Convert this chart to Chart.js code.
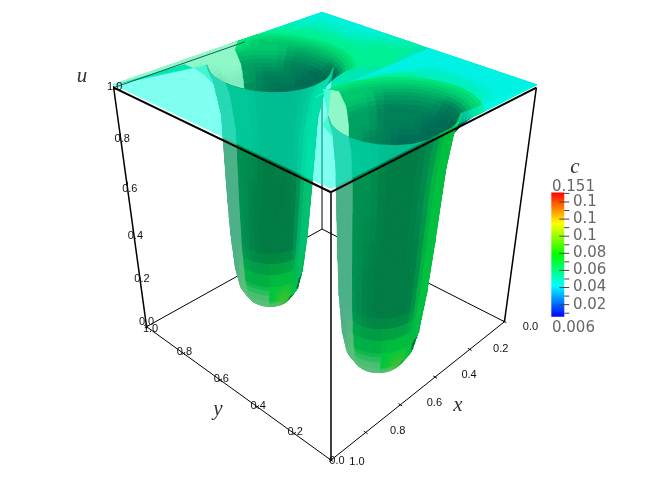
<!DOCTYPE html>
<html>
<head>
<meta charset="utf-8">
<style>body{margin:0;background:#fff}canvas{display:block}</style>
<script src="https://cdn.jsdelivr.net/npm/chart.js@4"></script>
</head>
<body>
<canvas id="surfaceChart" width="655" height="495"></canvas>
<script>
// axis values
const axisTicks = [0, 0.2, 0.4, 0.6, 0.8, 1];
const axisLabels = ['0.0', '0.2', '0.4', '0.6', '0.8', '1.0'];
const barTicks = [0.02, 0.04, 0.06, 0.08, 0.1, 0.12, 0.14];
const barMinorTicks = [0.01, 0.03, 0.05, 0.07, 0.09, 0.11, 0.13, 0.15];
const barLabels = ['0.02', '0.04', '0.06', '0.08', '0.1', '0.1', '0.1'];
const barRange = [0.006, 0.151];
const barColors = ['#0000ff', '#00ffff', '#00ff00', '#ffff00', '#ff0000'];

// well centres in the x-y plane, at the rim and at the bottom
const wellXTop = [0.48, 0.47];
const wellYTop = [0.777, 0.21];
const wellXLow = [0.5135, 0.494];
const wellYLow = [0.798, 0.22];
// width of each well against the common profile
const wellWideTop = [0.95, 1];
const wellWideLow = [0.87, 1];

// well profile: u and radius, rim downwards
const backU = [1.012, 0.995, 0.97, 0.93, 0.88, 0.8, 0.6];
const backR = [0.30, 0.265, 0.235, 0.205, 0.197, 0.19, 0.181];
const frontU = [1.012, 0.95, 0.8, 0.5, 0.3, 0.15, 0.08, 0.04, 0.02, 0.015];
const frontR = [0.222, 0.205, 0.19, 0.177, 0.165, 0.148, 0.13, 0.1, 0.06, 0.0];

// plane points the rays of each well run out to, one for every 15 degrees
const fanX = [
  [0.2, 0, 0, 0, 0, 0.12, 0.28, 0.44, 0.56, 0.68, 0.8, 0.92, 1],
  [0, 0, 0, 0, 0, 0.12, 0.25, 0.36, 0.45, 0.55, 0.62, 0.68, 0.72]
];
const fanY = [
  [0.5, 0.55, 0.7, 0.85, 1, 1, 1, 1, 1, 1, 1, 1, 1],
  [0, 0.12, 0.28, 0.4, 0.5, 0.5, 0.5, 0.5, 0.5, 0.5, 0.5, 0.5, 0.48]
];
const fanT = [1, 0.5, 0.2, 0];

// pale patch on the plane at the left of the near well
const patchX = [0.685, 0.626, 0.532, 0.464, 0.485];
const patchY = [0.219, 0.276, 0.377, 0.474, 0.524];

const palette = {
  a: '#00f2e4', b: '#00f0c0', c: '#00f094', d: '#00ea7c', e: '#00c86c', f: '#00a062',
  g: '#008058', h: '#006c54', i: '#005848', L: '#90f8c8', M: '#80ecc0', K: '#60d8a0',
  T: '#4cb088', U: '#58c078', D: '#008048', E: '#009050', F: '#007c44', B: '#00c040',
  C: '#00c070', G: '#00b844', H: '#00c83c', Y: '#40c030', Z: '#006830'
};
// fan colours, outermost row first, columns from 0 to 165 degrees, a dot leaves the cell out
const fanRows = [
  ['cbaaabcdLLLL', 'ccbbbccdLLLL', 'ccccccddLLLL'],
  ['aaaaaaabb...', 'aaaaaabbc...', 'abbbbcccd...']
];
// inner wall colours, ring by ring
const backRows = [
  ['ddddddddLLLL', 'eeeeeeedLLLL', 'hgfffeeeLLLM', 'ihhggfffLLMM', 'ihhhgggfMMKK', 'iihhhhggMMKK'],
  ['ddddddddd...', 'eeeeeeeee...', 'hggffffeeKLL', 'ihhggggfffLM', 'ihhhgggfffMM', 'iihhhhggffMK']
];
// outer wall colours, columns from 180 to 345 degrees
const frontRows = [
  [
    'TTTEEFFFECCC', 'TTTEEFFFECCC', 'TTTEEFFFECCC', 'TTTEDFFFDCCC',
    'TTTEDFFFDCCC', 'TTUGGGHHHGCG', 'UUUUUUHYYHCZ', 'UUUUUUUUYHZZ', 'UUUUUUUUUYHZ'
  ],
  [
    'TTTEEFFFEBBB', 'TTTEEFFFEBBB', 'TTTEEFFFEBBB', 'TTTEDFFFDBBB',
    'TTTEDFFFDBBB', 'TTUGGGHHHGBG', 'UUUUUUHYYHBZ', 'UUUUUUUUYHZZ', 'UUUUUUUUUYHZ'
  ]
];
const sectorStep = 15;

// picture positions of the box corners, [x, y] for x, y, u each 0 or 1
const boxCorners = {
  '000': [505, 322], '100': [331, 461], '010': [322, 229], '110': [146, 327],
  '001': [537, 87], '101': [331, 192], '011': [322, 14], '111': [113, 87]
};

// tick label offsets from the axis, in pixels
const yLabelDx = [6, 1, 1, 1, 1, 4];
const yLabelDy = [1, -1, -1, -1, -1, 2];
const xLabelDx = [26, 31, 34, 34, 32, 26];
const xLabelDy = [5, 0, -2, -2, -1, 2];
const uLabelDx = [0, 2, 2, 3, 2, 1];
const uLabelDy = [-5, 0, 5, 6, 4, -1];

function lerp(a, b, t) { return a + (b - a) * t; }
function clamp01(v) { return Math.max(0, Math.min(1, v)); }

function project(x, y, u) {
  const out = {};
  [0, 1].forEach(i => {
    const c = (a, b, d) => boxCorners['' + a + b + d][i];
    const low = lerp(lerp(c(0, 0, 0), c(1, 0, 0), x), lerp(c(0, 1, 0), c(1, 1, 0), x), y);
    const high = lerp(lerp(c(0, 0, 1), c(1, 0, 1), x), lerp(c(0, 1, 1), c(1, 1, 1), x), y);
    out[i === 0 ? 'x' : 'y'] = lerp(low, high, u);
  });
  return out;
}

// plane position at angle deg (0 = right on screen, 90 = away) and radius r from well w at height u
function wellPlane(w, deg, r, u) {
  const a = deg * Math.PI / 180;
  const t = Math.min(u, 1);
  const wide = lerp(wellWideLow[w], wellWideTop[w], Math.max(0, (t - 0.8) / 0.2));
  const c = Math.cos(a) * Math.SQRT1_2 * r * wide, s = Math.sin(a) * Math.SQRT1_2 * r * wide;
  return [clamp01(lerp(wellXLow[w], wellXTop[w], t) - c - s), clamp01(lerp(wellYLow[w], wellYTop[w], t) - c + s)];
}
function wallPoint(w, deg, r, u) {
  const p = wellPlane(w, deg, r, u);
  return project(p[0], p[1], u);
}

function rgb(hex) {
  return [1, 3, 5].map(i => parseInt(hex.substr(i, 2), 16));
}
function mix(a, b, t) {
  return a.map((v, i) => lerp(v, b[i], t));
}
// neighbouring sectors blend unless the step between them is a hard band
function cellColor(rows, k, s, fv, fh) {
  const at = (row, col) => {
    const name = row[Math.max(0, Math.min(11, col))];
    return rgb(palette[name === '.' ? row[Math.max(0, Math.min(11, s))] : name]);
  };
  const across = row => {
    if (row[s] === '.') return rgb(palette.L);
    const own = at(row, s);
    const other = at(row, fh < 0.5 ? s - 1 : s + 1);
    const gap = own.reduce((sum, v, i) => sum + Math.abs(v - other[i]), 0);
    return gap > 130 ? own : mix(own, other, Math.abs(fh - 0.5));
  };
  const next = rows[Math.min(rows.length - 1, k + 1)];
  const col = mix(across(rows[k]), across(next), fv);
  return 'rgb(' + col.map(Math.round).join(',') + ')';
}

const sets = [];
function polygon(points, color) {
  sets.push({
    data: points.concat([points[0]]), showLine: true, fill: 'shape', pointRadius: 0,
    backgroundColor: color, borderColor: color, borderWidth: 1, tension: 0,
    xAxisID: 'sx', yAxisID: 'sy'
  });
}
function segment(points, color, width) {
  sets.push({
    data: points, showLine: true, fill: false, pointRadius: 0, borderColor: color,
    borderWidth: width, tension: 0, xAxisID: 'sx', yAxisID: 'sy'
  });
}
function boxEdge(a, b, width, color) {
  segment([
    { x: boxCorners[a][0], y: boxCorners[a][1] },
    { x: boxCorners[b][0], y: boxCorners[b][1] }
  ], color || '#000', width);
}

// paints one table of colours over a ring mesh; place(s, k) takes fractional sector and ring
function mesh(rows, place, bottomFirst) {
  const ringSub = 3, sectorSub = 2;
  const order = rows.map((r, i) => i);
  if (bottomFirst) order.reverse();
  order.forEach(k => {
    for (let j = 0; j < ringSub; j++) {
      for (let s = 0; s < 12; s++) {
        if (rows[k][s] === '.') continue;
        for (let m = 0; m < sectorSub; m++) {
          const k0 = k + j / ringSub, k1 = k + (j + 1) / ringSub;
          const s0 = s + m / sectorSub, s1 = s + (m + 1) / sectorSub;
          polygon([place(s0, k0), place(s1, k0), place(s1, k1), place(s0, k1)],
            cellColor(rows, k, s, (j + 0.5) / ringSub, (m + 0.5) / sectorSub));
        }
      }
    }
  });
}
function profile(list, k) {
  const i = Math.min(list.length - 2, Math.floor(k));
  return lerp(list[i], list[i + 1], k - i);
}

// back edges, they sit behind everything
boxEdge('010', '110', 1);
boxEdge('010', '000', 1);
boxEdge('010', '011', 1);

// plane behind the wells, up to the front of both rims
const planeBack = [project(0, 0, 1.012), project(0, 1, 1.012), project(1, 1, 1.012)];
[0, 1].forEach(w => {
  for (let a = 180; a <= 360; a += sectorStep) planeBack.push(wallPoint(w, a, frontR[0], frontU[0]));
});
polygon(planeBack, '#00e8b0');

[0, 1].forEach(w => {
  // plane rays
  mesh(fanRows[w], (s, k) => {
    const i = Math.min(11, Math.floor(s));
    const tx = lerp(fanX[w][i], fanX[w][i + 1], s - i), ty = lerp(fanY[w][i], fanY[w][i + 1], s - i);
    const t = profile(fanT, k);
    const rim = wellPlane(w, s * sectorStep, backR[0], 1);
    return project(lerp(rim[0], tx, t), lerp(rim[1], ty, t), 1.012);
  }, false);
  // inner wall behind the opening
  mesh(backRows[w], (s, k) => wallPoint(w, s * sectorStep, profile(backR, k), profile(backU, k)), false);
  if (w === 1) {
    const patch = [];
    for (let a = 180; a <= 225; a += sectorStep) patch.push(wallPoint(w, a, frontR[0], frontU[0]));
    patchX.forEach((x, i) => patch.push(project(x, patchY[i], 1.012)));
    polygon(patch, palette.L);
  }
  // outer wall, bottom rings first
  mesh(frontRows[w], (s, k) => wallPoint(w, 180 + s * sectorStep, profile(frontR, k), profile(frontU, k)), true);
});

// see-through front part of the plane, its inner side follows the two rims
const veil = [project(1, 1, 1.012), project(1, 0, 1.012), project(0, 0, 1.012)];
[1, 0].forEach(w => {
  for (let a = 360; a >= 180; a -= sectorStep) veil.push(wallPoint(w, a, frontR[0], frontU[0]));
});
sets.push({
  data: veil.concat([veil[0]]), showLine: true, fill: 'shape', pointRadius: 0, borderWidth: 0,
  backgroundColor: 'rgba(0,255,224,0.5)', tension: 0, xAxisID: 'sx', yAxisID: 'sy'
});

// front edges and ticks
segment([project(1, 1, 1), project(0.37, 1, 1)], '#1a5a58', 1);
boxEdge('111', '101', 2);
boxEdge('101', '001', 2);
boxEdge('111', '110', 1.5);
boxEdge('101', '100', 1.5);
boxEdge('001', '000', 1.5);
boxEdge('110', '100', 1);
boxEdge('100', '000', 1);
axisTicks.forEach(t => {
  segment([project(1 - 0.01, t, 0), project(1 + 0.01, t, 0)], '#000', 1);
  segment([project(t, -0.01, 0), project(t, 0.01, 0)], '#000', 1);
  segment([project(1 - 0.008, 1 + 0.008, t), project(1 + 0.008, 1 - 0.008, t)], '#000', 1);
});

// colour bar
const barSet = {
  data: [
    { x: 552, y: barRange[0] }, { x: 565, y: barRange[0] },
    { x: 565, y: barRange[1] }, { x: 552, y: barRange[1] }, { x: 552, y: barRange[0] }
  ],
  showLine: true, fill: 'shape', pointRadius: 0, borderWidth: 0, tension: 0,
  backgroundColor: '#00ff00', xAxisID: 'sx', yAxisID: 'yBar'
};
sets.push(barSet);
barTicks.forEach(v => sets.push({
  data: [{ x: 560, y: v }, { x: 570, y: v }], showLine: true, pointRadius: 0, borderColor: '#444',
  borderWidth: 1, xAxisID: 'sx', yAxisID: 'yBar'
}));
barMinorTicks.forEach(v => sets.push({
  data: [{ x: 565, y: v }, { x: 570, y: v }], showLine: true, pointRadius: 0, borderColor: '#444',
  borderWidth: 1, xAxisID: 'sx', yAxisID: 'yBar'
}));

// later polygons paint on top
sets.forEach((d, i) => { d.order = sets.length - i; });

const textPlugin = {
  id: 'textPlugin',
  afterDatasetsDraw(chart) {
    const c = chart.ctx;
    const sx = chart.scales.sx, yBar = chart.scales.yBar, sy = chart.scales.sy;
    c.save();
    c.textBaseline = 'middle';
    c.textAlign = 'center';
    c.fillStyle = '#111';
    c.font = '11px "Liberation Sans"';
    const put = (text, p, dx, dy) => c.fillText(text, sx.getPixelForValue(p.x) + dx, sy.getPixelForValue(p.y) + dy);
    axisTicks.forEach((t, i) => {
      put(axisLabels[i], project(1, t, 0), yLabelDx[i], yLabelDy[i]);
      put(axisLabels[i], project(t, 0, 0), xLabelDx[i], xLabelDy[i]);
      put(axisLabels[i], project(1, 1, t), uLabelDx[i], uLabelDy[i]);
    });
    c.fillStyle = '#333';
    c.font = 'italic 21px "Liberation Serif"';
    c.fillText('u', 82, 76);
    c.fillText('y', 218, 409);
    c.fillText('x', 458, 405);
    c.fillText('c', 575, 167);
    c.fillStyle = '#666';
    c.textAlign = 'left';
    c.font = '15px "DejaVu Sans"';
    c.fillText('0.151', 552, 187);
    c.fillText('0.006', 552, 328);
    barTicks.forEach((v, i) => c.fillText(barLabels[i], 573, yBar.getPixelForValue(v)));
    c.restore();
  }
};

const hidden = { display: false };
const chart = new Chart(document.getElementById('surfaceChart').getContext('2d'), {
  type: 'scatter',
  data: { datasets: sets },
  options: {
    responsive: false,
    animation: false,
    parsing: false,
    normalized: false,
    layout: { padding: 0 },
    plugins: { legend: hidden, tooltip: { enabled: false }, title: hidden },
    scales: {
      sx: { type: 'linear', axis: 'x', min: 0, max: 655, display: false },
      sy: { type: 'linear', axis: 'y', min: 0, max: 495, reverse: true, display: false },
      yBar: { type: 'linear', axis: 'y', min: -0.2013, max: 0.3749, display: false }
    }
  },
  plugins: [textPlugin]
});

// rainbow along the colour bar
const yb = chart.scales.yBar;
const grad = chart.ctx.createLinearGradient(0, yb.getPixelForValue(barRange[0]), 0, yb.getPixelForValue(barRange[1]));
barColors.forEach((col, i) => grad.addColorStop(i / (barColors.length - 1), col));
barSet.backgroundColor = grad;
chart.update();
</script>
</body>
</html>
